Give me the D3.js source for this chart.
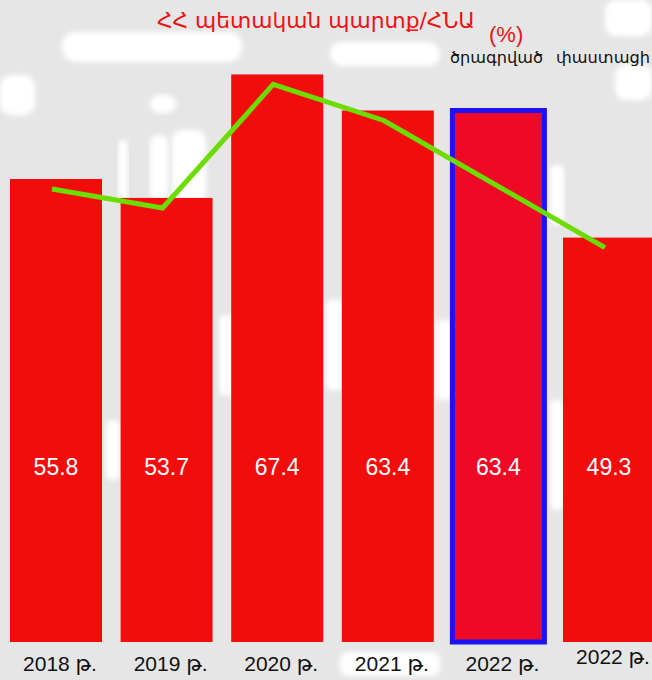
<!DOCTYPE html>
<html>
<head>
<meta charset="utf-8">
<script src="https://cdn.jsdelivr.net/npm/d3@7"></script>
<style>
  body { margin: 0; background: #fff; }
  svg { display: block; }
</style>
</head>
<body>
<div id="chart"></div>
<script>
// data
var years = ["2018 թ.", "2019 թ.", "2020 թ.", "2021 թ.", "2022 թ.", "2022 թ."];
var debtValues = [55.8, 53.7, 67.4, 63.4, 63.4, 49.3];
var planned = [false, false, false, false, true, false];
// the green line skips the planned 2022 bar
var lineValues = [55.8, 53.7, 67.4, 63.4, null, 49.3];
var titleText = "ՀՀ պետական պարտք/ՀՆԱ";
var unitText = "(%)";
var legendLabels = ["ծրագրված", "փաստացի"];

var width = 652, height = 680;
var baseY = 642;

var svg = d3.select("#chart").append("svg")
    .attr("width", width)
    .attr("height", height);

// faint sketch in the background
var defs = svg.append("defs");
defs.append("filter").attr("id", "soft")
  .append("feGaussianBlur").attr("stdDeviation", 2.5);

var bg = svg.append("g");
bg.append("rect").attr("width", width).attr("height", height).attr("fill", "#e6e6e6");
var blobs = [
  [62, 32, 180, 30, 14], [330, 42, 110, 24, 12], [605, 0, 47, 36, 10],
  [0, 75, 35, 40, 12], [150, 95, 26, 18, 9], [275, 140, 20, 36, 8],
  [118, 140, 10, 60, 5], [150, 135, 18, 65, 8], [172, 130, 34, 72, 10],
  [326, 300, 20, 90, 6], [219, 315, 20, 80, 6], [436, 320, 18, 80, 6],
  [550, 165, 14, 60, 6], [615, 65, 37, 35, 10], [340, 652, 100, 24, 8],
  [106, 420, 14, 60, 6], [550, 400, 14, 110, 6]
];
bg.selectAll("rect.blob")
  .data(blobs)
  .enter().append("rect")
    .attr("class", "blob")
    .attr("x", function(d) { return d[0]; })
    .attr("y", function(d) { return d[1]; })
    .attr("width", function(d) { return d[2]; })
    .attr("height", function(d) { return d[3]; })
    .attr("rx", function(d) { return d[4]; })
    .attr("fill", "#ffffff")
    .attr("filter", "url(#soft)");

// scales
var x = d3.scalePoint()
    .domain(d3.range(years.length))
    .range([56, 609]);
var barW = 92;

var y = d3.scaleLinear()
    .domain([0, 70])
    .range([682, 51]);

// bars
svg.selectAll("rect.bar")
  .data(debtValues)
  .enter().append("rect")
    .attr("class", "bar")
    .attr("x", function(d, i) { return x(i) - barW / 2; })
    .attr("y", function(d) { return y(d); })
    .attr("width", barW)
    .attr("height", function(d) { return baseY - y(d); })
    .attr("fill", function(d, i) { return planned[i] ? "#ee0a24" : "#f20d0d"; })
    .attr("stroke", function(d, i) { return planned[i] ? "#1f12f2" : "none"; })
    .attr("stroke-width", 5);

// value labels
svg.selectAll("text.val")
  .data(debtValues)
  .enter().append("text")
    .attr("class", "val")
    .attr("x", function(d, i) { return x(i); })
    .attr("y", 475)
    .attr("text-anchor", "middle")
    .style("font-family", "'Liberation Sans', Arial, sans-serif")
    .style("font-size", "23px")
    .attr("fill", "#ffffff")
    .text(function(d) { return d.toFixed(1); });

// green line
var linePts = lineValues
  .map(function(v, i) { return {i: i, v: v}; })
  .filter(function(d) { return d.v != null; });

svg.append("path")
  .datum(linePts)
  .attr("transform", "translate(-4,10)")
  .attr("fill", "none")
  .attr("stroke", "#6ddc00")
  .attr("stroke-width", 5)
  .attr("d", d3.line()
    .x(function(d) { return x(d.i); })
    .y(function(d) { return y(d.v); }));

// year labels
svg.selectAll("text.year")
  .data(years)
  .enter().append("text")
    .attr("class", "year")
    .attr("x", function(d, i) { return x(i) + 4; })
    .attr("y", function(d, i) { return i == years.length - 1 ? 664 : 671; })
    .attr("text-anchor", "middle")
    .style("font-family", "'Liberation Sans', 'DejaVu Sans', sans-serif")
    .style("font-size", "21px")
    .attr("fill", "#111")
    .text(function(d) { return d; });

// title
svg.append("text")
  .attr("x", 157).attr("y", 28)
  .attr("textLength", 318).attr("lengthAdjust", "spacingAndGlyphs")
  .style("font-family", "'DejaVu Sans', sans-serif")
  .style("font-size", "21px")
  .attr("fill", "#ee1111")
  .text(titleText);

svg.append("text")
  .attr("x", 489).attr("y", 42)
  .style("font-family", "'Liberation Sans', sans-serif")
  .style("font-size", "22px")
  .attr("fill", "#ee1111")
  .text(unitText);

// legend words
var legendX = [450, 556];
svg.selectAll("text.leg")
  .data(legendLabels)
  .enter().append("text")
    .attr("class", "leg")
    .attr("x", function(d, i) { return legendX[i]; })
    .attr("y", 63)
    .attr("textLength", function(d, i) { return i == 0 ? 93 : 94; })
    .attr("lengthAdjust", "spacingAndGlyphs")
    .style("font-family", "'DejaVu Sans', sans-serif")
    .style("font-size", "16px")
    .attr("fill", "#111")
    .text(function(d) { return d; });
</script>
</body>
</html>
